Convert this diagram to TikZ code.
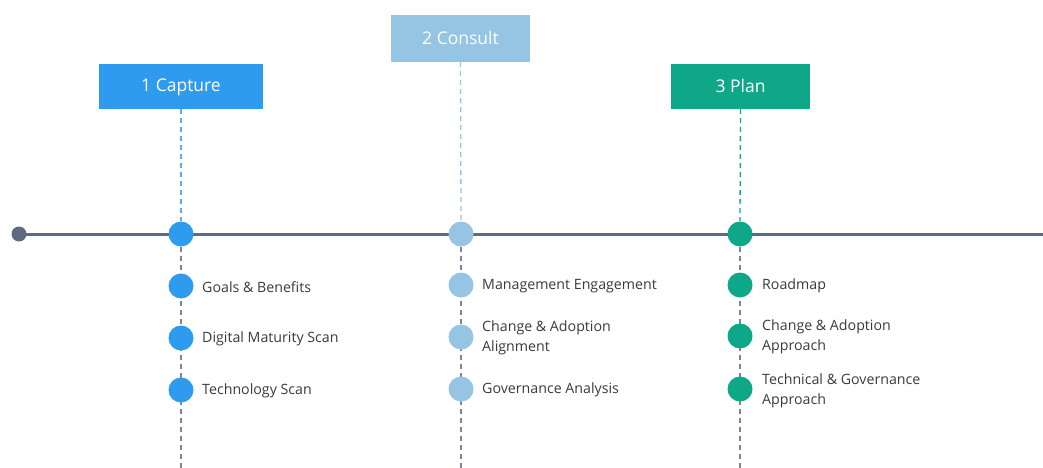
\documentclass[tikz,border=0pt]{standalone}
\usepackage{fontspec}
\setmainfont{Open Sans}
\definecolor{capblue}{HTML}{2F9BEF}
\definecolor{conblue}{HTML}{95C5E2}
\definecolor{plangreen}{HTML}{0EA888}
\definecolor{axisgray}{HTML}{5E6A80}
\definecolor{dashgray}{HTML}{7D8599}
\definecolor{textgray}{HTML}{3A3A3A}
\begin{document}
\begin{tikzpicture}[x=1pt,y=-1pt,
  phasebox/.style={minimum width=164pt,minimum height=45pt,inner sep=0pt,
    text=white,font=\fontsize{17.5}{20}\selectfont,text depth=2pt},
  bigdot/.style={circle,minimum size=25pt,inner sep=0pt},
  smalldot/.style={circle,minimum size=25pt,inner sep=0pt},
  itemtext/.style={anchor=west,align=left,text=textgray,
    font=\fontsize{14.2}{20.5}\selectfont,inner sep=0pt},
  upline/.style={line width=1.3pt,dash pattern=on 5pt off 4pt},
  downline/.style={dashgray,line width=1.3pt,dash pattern=on 5pt off 4pt},
]
\useasboundingbox (0,0) rectangle (1043,468);

% timeline axis
\coordinate (axisend) at (1043,234);
\node[circle,fill=axisgray,minimum size=15pt,inner sep=0pt] (start) at (19,234) {};
\draw[axisgray,line width=3pt] (start.center) -- (axisend);

% phase headers
\node[phasebox,fill=capblue,minimum width=164pt] (capture) at (181,86.5) {1 Capture};
\node[phasebox,fill=conblue,minimum width=139pt,minimum height=47pt] (consult) at (460.5,38.5) {2 Consult};
\node[phasebox,fill=plangreen,minimum width=139pt] (plan) at (740.5,86.5) {3 Plan};

% milestones on the axis
\node[bigdot,fill=capblue] (m1) at (181,234) {};
\node[bigdot,fill=conblue] (m2) at (461,234) {};
\node[bigdot,fill=plangreen] (m3) at (740,234) {};

% bottom ends of the drop lines
\coordinate (e1) at (181,468);
\coordinate (e2) at (461,468);
\coordinate (e3) at (740,468);

% connectors
\draw[upline,capblue!80] (capture.south) -- (m1.north);
\draw[upline,conblue] (consult.south) -- (m2.north);
\draw[upline,plangreen] (plan.south) -- (m3.north);
\draw[downline] (m1.south) -- (e1);
\draw[downline] (m2.south) -- (e2);
\draw[downline] (m3.south) -- (e3);

% capture items
\node[smalldot,fill=capblue] (c1) at (181,286) {};
\node[smalldot,fill=capblue] (c2) at (181,338) {};
\node[smalldot,fill=capblue] (c3) at (181,390) {};
\node[itemtext] (ct1) at (202,287) {Goals \& Benefits};
\node[itemtext] (ct2) at (202,339) {Digital Maturity Scan};
\node[itemtext] (ct3) at (202,391) {Technology Scan};

% consult items
\node[smalldot,fill=conblue] (s1) at (461,285) {};
\node[smalldot,fill=conblue] (s2) at (461,337) {};
\node[smalldot,fill=conblue] (s3) at (461,389) {};
\node[itemtext] (st1) at (482,286) {Management Engagement};
\node[itemtext] (st2) at (482,338) {Change \& Adoption\\Alignment};
\node[itemtext] (st3) at (482,390) {Governance Analysis};

% plan items
\node[smalldot,fill=plangreen] (p1) at (740,285) {};
\node[smalldot,fill=plangreen] (p2) at (740,336) {};
\node[smalldot,fill=plangreen] (p3) at (740,389) {};
\node[itemtext] (pt1) at (762,286) {Roadmap};
\node[itemtext] (pt2) at (762,337) {Change \& Adoption\\Approach};
\node[itemtext] (pt3) at (762,391) {Technical \& Governance\\Approach};
\end{tikzpicture}
\end{document}
